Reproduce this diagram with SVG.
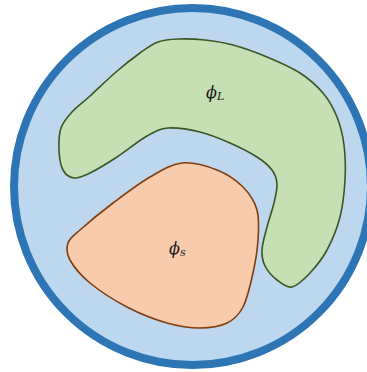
<svg xmlns="http://www.w3.org/2000/svg" width="367" height="372" viewBox="0 0 367 372">
<style>
.lbl{font-family:"DejaVu Serif","Liberation Serif",serif;font-style:italic;font-size:16px;fill:#1a1a1a}
.sub{font-size:11px}
</style>
<rect width="367" height="372" fill="#ffffff"/>
<g id="domain">
<circle cx="192.5" cy="186.5" r="178.5" fill="#bdd7ee" stroke="#2e75b6" stroke-width="8"/>
</g>
<g id="phiL">
<path d="M178,39 C185.8,38.7 195.8,39 205,40 C214.2,41 222.7,42.2 233,45 C243.3,47.8 255.8,52.3 267,57 C278.2,61.7 290.7,67 300,73 C309.3,79 316.8,85.7 323,93 C329.2,100.3 333.5,108.3 337,117 C340.5,125.7 342.7,134.5 344,145 C345.3,155.5 345.7,168 345,180 C344.3,192 343,205.3 340,217 C337,228.7 332,240.7 327,250 C322,259.3 315.8,266.8 310,273 C304.2,279.2 297.5,285.8 292,287 C286.5,288.2 281.5,283.5 277,280 C272.5,276.5 267.5,271 265,266 C262.5,261 261.7,256.5 262,250 C262.3,243.5 265,234.8 267,227 C269,219.2 272.3,210.2 274,203 C275.7,195.8 277.3,189.5 277,184 C276.7,178.5 275.3,174.5 272,170 C268.7,165.5 264,161.5 257,157 C250,152.5 239.5,147.2 230,143 C220.5,138.8 210.3,134.5 200,132 C189.7,129.5 176.8,127.3 168,128 C159.2,128.7 155.5,131.2 147,136 C138.5,140.8 126.5,150.8 117,157 C107.5,163.2 97.2,169.5 90,173 C82.8,176.5 78.5,178.5 74,178 C69.5,177.5 65.5,174.7 63,170 C60.5,165.3 59.3,157 59,150 C58.7,143 58.8,134.3 61,128 C63.2,121.7 67.2,117.3 72,112 C76.8,106.7 82.7,102.7 90,96 C97.3,89.3 107.7,79.2 116,72 C124.3,64.8 133,58 140,53 C147,48 151.7,44.3 158,42 C164.3,39.7 170.2,39.3 178,39 Z" fill="#c5e0b4" stroke="#385723" stroke-width="1.6"/>
<text class="lbl" x="206" y="98">ϕ<tspan class="sub" dy="2">L</tspan></text>
</g>
<g id="phiS">
<path d="M182,163 C193.2,161.8 206.8,166 217,170 C227.2,174 236.3,180.3 243,187 C249.7,193.7 254.5,201.2 257,210 C259.5,218.8 258.7,229.5 258,240 C257.3,250.5 255.5,261.8 253,273 C250.5,284.2 247.3,298.7 243,307 C238.7,315.3 234.2,319.5 227,323 C219.8,326.5 210,328 200,328 C190,328 179.2,326.5 167,323 C154.8,319.5 139.8,313.7 127,307 C114.2,300.3 99.5,290.8 90,283 C80.5,275.2 73.7,266.7 70,260 C66.3,253.3 66.3,248 68,243 C69.7,238 72.5,236.7 80,230 C87.5,223.3 101.3,211.8 113,203 C124.7,194.2 138.5,183.7 150,177 C161.5,170.3 170.8,164.2 182,163 Z" fill="#f8cbad" stroke="#843c0c" stroke-width="1.6"/>
<text class="lbl" x="169" y="254">ϕ<tspan class="sub" dy="2">s</tspan></text>
</g>
</svg>
